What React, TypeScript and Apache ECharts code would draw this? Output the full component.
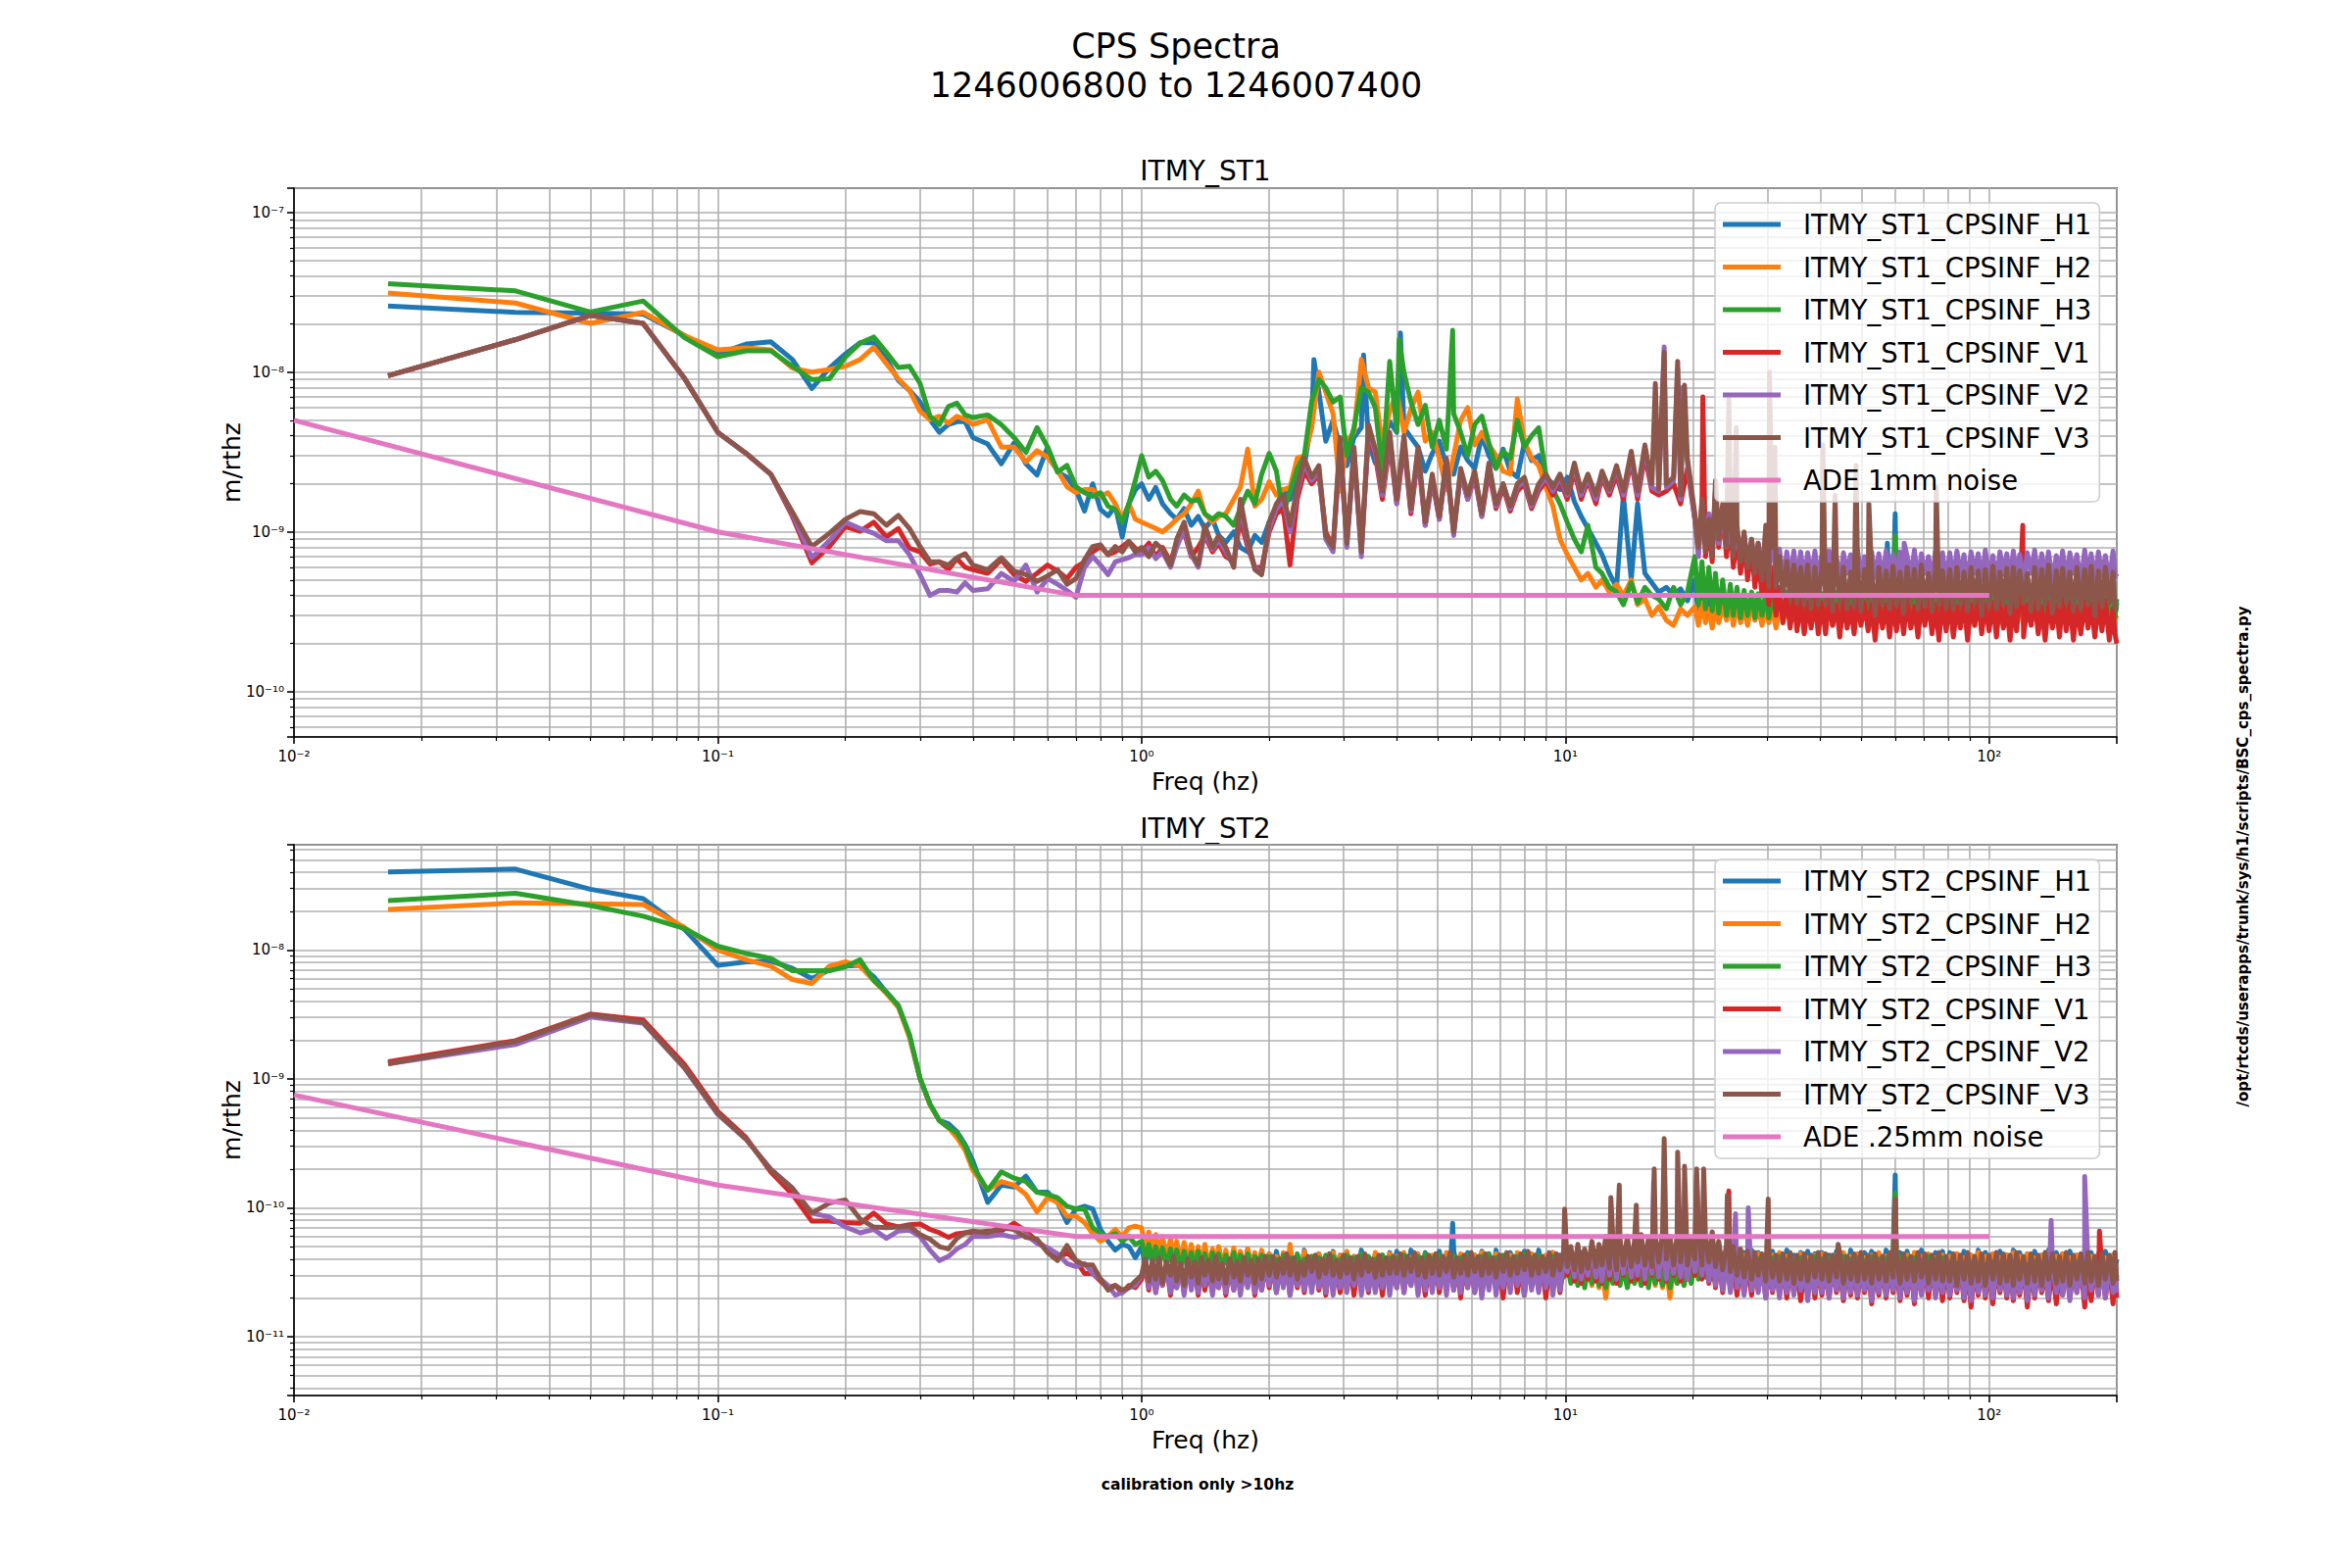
import React, { useEffect, useRef } from "react";
import * as echarts from "echarts";

const FONT = "'DejaVu Sans', 'Noto Sans', sans-serif";
const COLORS = ["#1f77b4", "#ff7f0e", "#2ca02c", "#d62728", "#9467bd", "#8c564b", "#e377c2"];

const TOP_NAMES = ["ITMY_ST1_CPSINF_H1", "ITMY_ST1_CPSINF_H2", "ITMY_ST1_CPSINF_H3", "ITMY_ST1_CPSINF_V1", "ITMY_ST1_CPSINF_V2", "ITMY_ST1_CPSINF_V3", "ADE 1mm noise"];
const BOT_NAMES = ["ITMY_ST2_CPSINF_H1", "ITMY_ST2_CPSINF_H2", "ITMY_ST2_CPSINF_H3", "ITMY_ST2_CPSINF_V1", "ITMY_ST2_CPSINF_V2", "ITMY_ST2_CPSINF_V3", "ADE .25mm noise"];

const X_MIN = 0.01, X_MAX = 200;
const TOP_Y = [5.2e-11, 1.42e-7];
const BOT_Y = [3.5e-12, 6.55e-8];
const TOP_UNIT = 1e-9;
const BOT_UNIT = 1e-10;

// frequency bins (Hz)
const F_LF = [0.01667, 0.03333, 0.05, 0.06667, 0.08333, 0.1, 0.11667, 0.13333, 0.15, 0.16667, 0.18333, 0.2, 0.21667, 0.23333, 0.25, 0.26667, 0.28333, 0.3, 0.31667, 0.33333, 0.35, 0.36667, 0.38333, 0.4,
  0.43333, 0.46667, 0.5, 0.53333, 0.56667, 0.6, 0.63333, 0.66667, 0.7, 0.73333, 0.76667, 0.8, 0.83333, 0.86667, 0.9, 0.93333, 0.96667];
const F_20_40 = [20.2, 20.6, 21.0, 21.4, 21.8, 22.2, 22.6, 23.0, 23.5, 24.0, 24.5, 24.9, 25.4, 25.9, 26.4, 26.9, 27.5, 28.0, 28.5, 29.1, 29.7, 30.2, 30.8, 31.4, 32.0, 32.6, 33.3, 33.9, 34.6, 35.2, 35.9, 36.6, 37.3, 38.0, 38.8, 39.5];
const F_40_80 = [40.3, 41.1, 41.9, 42.7, 43.6, 44.4, 45.3, 46.2, 47.1, 48.0, 48.9, 49.8, 50.8, 51.8, 52.8, 53.8, 54.9, 56.0, 57.1, 58.2, 59.3, 60.4, 61.6, 62.8, 64.0, 65.3, 66.6, 67.9, 69.2, 70.5, 71.9, 73.3, 74.7, 76.1, 77.6, 79.1];
const F_80_200 = [80.7, 82.3, 83.9, 85.5, 87.2, 88.9, 90.6, 92.4, 94.2, 96.0, 97.9, 99.9, 102, 104, 106, 108, 110, 112, 114, 116, 118, 120.5, 123, 125.5, 128, 130.5, 133, 135.5, 138, 141, 144, 146.5, 149, 152, 155, 158, 161, 164.5, 168, 171, 174, 177.5, 181, 184.5, 188, 192, 196, 198, 200];
const F_HF_TOP = [
  [1.0, 1.04, 1.08, 1.12, 1.17, 1.21, 1.26, 1.31, 1.36, 1.41, 1.47, 1.52, 1.58, 1.65, 1.71, 1.78, 1.85, 1.92],
  [2.0, 2.08, 2.16, 2.24, 2.33, 2.42, 2.52, 2.62, 2.72, 2.83, 2.94, 3.05, 3.17, 3.3, 3.43, 3.56, 3.7, 3.85],
  [4.0, 4.16, 4.32, 4.49, 4.67, 4.85, 5.04, 5.24, 5.45, 5.66, 5.88, 6.11, 6.35, 6.6, 6.86, 7.13, 7.41, 7.7, 8.0, 8.32, 8.65, 8.99, 9.34, 9.71],
  [10.1, 10.5, 10.9, 11.3, 11.8, 12.2, 12.7, 13.2, 13.7, 14.3, 14.8, 15.4, 16.0, 16.6, 17.3, 18.0, 18.7, 19.4],
  F_20_40, F_40_80, F_80_200,
];
const F_HF_BOT = [
  [1.0, 1.02, 1.04, 1.06, 1.08, 1.1, 1.12, 1.145, 1.17, 1.19, 1.21, 1.235, 1.26, 1.285, 1.31, 1.335, 1.36, 1.385, 1.41, 1.44, 1.47, 1.495, 1.52, 1.55, 1.58, 1.615, 1.65, 1.68, 1.71, 1.745, 1.78, 1.815, 1.85, 1.885, 1.92, 1.96],
  [2.0, 2.04, 2.08, 2.12, 2.16, 2.2, 2.24, 2.285, 2.33, 2.375, 2.42, 2.47, 2.52, 2.57, 2.62, 2.67, 2.72, 2.775, 2.83, 2.885, 2.94, 2.995, 3.05, 3.11, 3.17, 3.235, 3.3, 3.365, 3.43, 3.495, 3.56, 3.63, 3.7, 3.775, 3.85, 3.925],
  [4.0, 4.08, 4.16, 4.24, 4.32, 4.405, 4.49, 4.58, 4.67, 4.76, 4.85, 4.945, 5.04, 5.14, 5.24, 5.345, 5.45, 5.555, 5.66, 5.77, 5.88, 5.995, 6.11, 6.23, 6.35, 6.475, 6.6, 6.73, 6.86, 6.995, 7.13, 7.27, 7.41, 7.555, 7.7, 7.85, 8.0, 8.16, 8.32, 8.485, 8.65, 8.82, 8.99, 9.165, 9.34, 9.525, 9.71, 9.9],
  [10.1, 10.3, 10.5, 10.7, 10.9, 11.1, 11.3, 11.55, 11.8, 12.0, 12.2, 12.45, 12.7, 12.95, 13.2, 13.45, 13.7, 14.0, 14.3, 14.55, 14.8, 15.1, 15.4, 15.7, 16.0, 16.3, 16.6, 16.95, 17.3, 17.65, 18.0, 18.35, 18.7, 19.05, 19.4, 19.8],
  F_20_40, F_40_80, F_80_200,
];

// ---------- ITMY_ST1 (values in 1e-9 m/rthz) ----------
const T_H1_LF = [26, 23.7, 23.4, 23.1, 17, 13, 15, 15.5, 12, 7.9, 10.6, 13, 15.3, 15.3, 12.1, 8.9, 7.7, 6.5, 5.05, 4.2, 4.7, 4.9, 4.9, 3.9,
  3.55, 2.67, 3.6, 2.67, 2.27, 3.4, 2.37, 2.2, 1.84, 1.35, 2.0, 1.38, 1.26, 1.45, 0.93, 1.5, 1.84];
const T_H1_HF = [
  [2.0, 1.6, 1.9, 1.5, 1.3, 1.2, 1.4, 1.1, 1.25, 1.05, 1.2, 0.95, 0.86, 1.0, 0.8, 0.75, 0.95, 0.86],
  [1.15, 1.45, 1.84, 1.6, 2.2, 2.6, 5.0, 7.5, 3.7, 5.0, 3.4, 2.6, 3.9, 4.5, 3.7, 2.7, 3.5, 4.9],
  [4.2, 4.5, 3.9, 3.4, 2.4, 3.1, 3.7, 2.6, 2.3, 3.4, 2.8, 2.5, 4.0, 3.0, 2.5, 3.3, 2.4, 2.2, 3.6, 2.8, 3.0, 2.2, 2.0, 1.84],
  [2.2, 1.55, 1.25, 1.05, 0.85, 0.72, 0.55, 0.45, 1.7, 0.5, 1.5, 0.55, 0.48, 0.42, 0.45, 0.4, 0.44, 0.37],
  [0.5, 0.3, 0.45, 0.29, 0.44, 0.3, 0.42, 0.28, 0.41, 0.3, 0.4, 0.28, 0.39, 0.3, 0.4, 0.29, 0.38, 0.28, 0.4, 0.3, 0.39, 0.29, 0.41, 0.28, 0.38, 0.3, 0.4, 0.29, 0.42, 0.28, 0.39, 0.3, 0.37, 0.29, 0.4, 0.3],
  [0.41, 0.29, 0.39, 0.3, 0.4, 0.28, 0.42, 0.3, 0.38, 0.29, 0.4, 0.28, 0.41, 0.3, 0.39, 0.29, 0.42, 0.28, 0.4, 0.3, 0.39, 0.29, 0.38, 0.29, 0.4, 0.3, 0.39, 0.28, 0.41, 0.3, 0.38, 0.29, 0.4, 0.28, 0.39, 0.3],
  [0.4, 0.28, 0.39, 0.3, 0.41, 0.29, 0.38, 0.3, 0.4, 0.28, 0.39, 0.3, 0.42, 0.29, 0.38, 0.3, 0.4, 0.28, 0.39, 0.3, 0.41, 0.29, 0.38, 0.3, 0.4, 0.28, 0.39, 0.3, 0.42, 0.29, 0.38, 0.3, 0.4, 0.28, 0.39, 0.3, 0.41, 0.29, 0.38, 0.3, 0.4, 0.28, 0.39, 0.3, 0.41, 0.29, 0.38, 0.3, 0.36],
];
const T_H1_PK = [[2.55, 12.0], [3.34, 12.8], [4.08, 17.6], [57.5, 0.85], [60.0, 1.3]];

const T_H2_LF = [31.3, 27.1, 20.2, 23.7, 17, 13.8, 14.2, 13.8, 10.6, 10, 10.4, 10.9, 12.0, 14.3, 11.3, 9.1, 7.7, 5.7, 5.05, 5.3, 4.8, 5.3, 5.05, 4.7,
  5.05, 3.4, 3.4, 2.74, 3.23, 2.94, 2.43, 1.92, 1.76, 1.84, 1.84, 1.67, 1.76, 1.5, 1.2, 1.5, 1.2];
const T_H2_HF = [
  [1.15, 1.1, 1.05, 1.0, 1.1, 1.2, 1.3, 1.5, 1.8, 1.3, 1.15, 1.25, 1.3, 1.6, 1.9, 3.3, 1.45, 1.6],
  [2.06, 1.7, 1.84, 1.9, 2.9, 3.0, 4.5, 10.0, 7.5, 5.5, 1.8, 3.7, 4.2, 12.0, 8.0, 7.5, 3.5, 5.7],
  [7.5, 4.2, 5.9, 7.5, 3.7, 4.2, 2.9, 1.84, 3.0, 5.0, 6.0, 3.5, 4.2, 3.5, 3.0, 2.4, 2.3, 6.8, 3.7, 2.9, 2.6, 1.9, 1.45, 0.9],
  [0.72, 0.6, 0.5, 0.55, 0.45, 0.5, 0.42, 0.47, 0.4, 0.5, 0.35, 0.38, 0.3, 0.34, 0.28, 0.26, 0.33, 0.3],
  [0.34, 0.26, 0.36, 0.27, 0.33, 0.25, 0.35, 0.27, 0.34, 0.28, 0.36, 0.26, 0.35, 0.27, 0.33, 0.26, 0.36, 0.28, 0.34, 0.26, 0.35, 0.27, 0.33, 0.25, 0.36, 0.27, 0.34, 0.28, 0.35, 0.26, 0.33, 0.27, 0.36, 0.26, 0.34, 0.28],
  [0.35, 0.27, 0.34, 0.26, 0.36, 0.28, 0.33, 0.26, 0.35, 0.27, 0.37, 0.28, 0.34, 0.26, 0.35, 0.27, 0.36, 0.28, 0.34, 0.27, 0.35, 0.26, 0.33, 0.28, 0.36, 0.26, 0.34, 0.27, 0.37, 0.28, 0.35, 0.26, 0.34, 0.27, 0.36, 0.28],
  [0.34, 0.26, 0.35, 0.27, 0.36, 0.28, 0.33, 0.26, 0.35, 0.27, 0.36, 0.28, 0.35, 0.27, 0.34, 0.26, 0.36, 0.28, 0.33, 0.27, 0.35, 0.26, 0.36, 0.28, 0.34, 0.27, 0.35, 0.26, 0.33, 0.28, 0.36, 0.27, 0.34, 0.26, 0.35, 0.28, 0.36, 0.26, 0.34, 0.27, 0.35, 0.28, 0.33, 0.26, 0.36, 0.27, 0.34, 0.28, 0.3],
];
const T_H2_PK = [[60.0, 0.75]];

const T_H3_LF = [35.8, 32.3, 23.8, 27.9, 16.5, 12.5, 13.6, 13.6, 10.9, 9.0, 9.1, 12.4, 15.2, 16.6, 13.3, 10.7, 10.9, 8.5, 5.3, 4.7, 6.1, 6.4, 5.4, 5.2,
  5.4, 4.7, 3.9, 3.15, 4.5, 3.4, 2.37, 2.61, 1.92, 1.76, 1.67, 1.76, 1.45, 1.38, 1.15, 1.5, 2.1];
const T_H3_HF = [
  [3.0, 2.2, 2.4, 2.1, 1.6, 1.45, 1.7, 1.55, 1.6, 1.3, 1.2, 1.3, 1.25, 1.1, 1.4, 1.8, 1.5, 2.3],
  [3.1, 2.4, 1.3, 1.8, 2.5, 3.0, 6.6, 9.0, 8.0, 6.5, 7.0, 3.0, 4.5, 8.0, 7.5, 6.0, 2.4, 11.7],
  [4.3, 10.0, 6.5, 4.7, 6.2, 3.4, 5.0, 3.3, 5.5, 4.2, 3.0, 4.7, 5.3, 3.6, 2.5, 3.2, 2.9, 5.0, 3.4, 4.0, 4.5, 2.3, 1.84, 1.5],
  [1.15, 0.9, 0.75, 1.1, 0.6, 0.55, 0.45, 0.42, 0.35, 0.48, 0.36, 0.45, 0.4, 0.38, 0.33, 0.45, 0.35, 0.42],
  [0.7, 0.35, 0.65, 0.33, 0.6, 0.32, 0.55, 0.31, 0.5, 0.3, 0.47, 0.3, 0.45, 0.29, 0.43, 0.3, 0.42, 0.29, 0.41, 0.3, 0.42, 0.29, 0.4, 0.31, 0.41, 0.3, 0.42, 0.29, 0.4, 0.31, 0.42, 0.3, 0.41, 0.29, 0.4, 0.3],
  [0.41, 0.3, 0.4, 0.29, 0.42, 0.31, 0.39, 0.3, 0.41, 0.29, 0.43, 0.3, 0.4, 0.29, 0.41, 0.3, 0.4, 0.31, 0.42, 0.29, 0.41, 0.3, 0.39, 0.31, 0.4, 0.29, 0.42, 0.3, 0.41, 0.31, 0.43, 0.29, 0.4, 0.3, 0.41, 0.31],
  [0.41, 0.29, 0.4, 0.3, 0.42, 0.31, 0.39, 0.3, 0.41, 0.29, 0.4, 0.31, 0.43, 0.3, 0.39, 0.29, 0.41, 0.3, 0.4, 0.31, 0.42, 0.3, 0.39, 0.29, 0.41, 0.31, 0.4, 0.3, 0.42, 0.29, 0.39, 0.31, 0.41, 0.3, 0.43, 0.29, 0.4, 0.31, 0.41, 0.3, 0.39, 0.29, 0.42, 0.31, 0.4, 0.3, 0.41, 0.29, 0.38],
];
const T_H3_PK = [[4.05, 16.0], [5.42, 18.3], [60.0, 0.95]];

const T_V1_LF = [9.5, 16, 22.7, 20.2, 9.2, 4.2, 3.1, 2.3, 1.25, 0.64, 0.81, 1.08, 1.01, 1.15, 0.93, 1.05, 0.79, 0.75, 0.63, 0.65, 0.58, 0.68, 0.6, 0.58,
  0.55, 0.67, 0.54, 0.49, 0.55, 0.62, 0.57, 0.51, 0.6, 0.65, 0.75, 0.81, 0.72, 0.75, 0.81, 0.87, 0.79];
const T_V1_HF = [
  [0.75, 0.85, 0.7, 0.8, 0.65, 0.85, 1.0, 0.7, 0.8, 0.95, 0.75, 0.85, 0.7, 0.65, 1.2, 0.8, 0.6, 0.6],
  [1.0, 1.3, 1.4, 0.62, 1.6, 2.4, 2.0, 2.3, 1.0, 0.8, 3.2, 0.9, 3.0, 0.8, 4.0, 3.0, 1.6, 3.6],
  [1.5, 3.5, 1.3, 3.0, 1.1, 2.1, 1.2, 2.6, 1.0, 2.3, 1.6, 2.2, 1.25, 2.4, 1.4, 1.9, 1.35, 1.8, 2.0, 1.4, 1.8, 2.1, 1.7, 2.1],
  [1.6, 2.4, 1.6, 2.1, 1.5, 2.2, 1.7, 2.3, 1.6, 2.8, 1.6, 3.0, 1.8, 1.7, 1.8, 2.0, 1.5, 2.5],
  [1.2, 0.75, 1.4, 0.7, 1.1, 0.65, 1.8, 0.8, 1.3, 0.7, 1.2, 0.6, 0.95, 0.55, 0.9, 0.5, 0.8, 0.45, 0.7, 0.4, 0.6, 0.35, 0.6, 0.3, 0.45, 0.27, 0.4, 0.25, 0.38, 0.24, 0.37, 0.23, 0.36, 0.25, 0.38, 0.23],
  [0.36, 0.23, 0.38, 0.26, 0.35, 0.22, 0.37, 0.25, 0.34, 0.23, 0.38, 0.26, 0.36, 0.24, 0.35, 0.21, 0.37, 0.25, 0.35, 0.22, 0.37, 0.24, 0.36, 0.23, 0.38, 0.25, 0.34, 0.22, 0.36, 0.26, 0.37, 0.23, 0.35, 0.21, 0.38, 0.24],
  [0.36, 0.22, 0.34, 0.25, 0.37, 0.21, 0.35, 0.26, 0.38, 0.23, 0.35, 0.24, 0.36, 0.22, 0.37, 0.25, 0.34, 0.21, 0.36, 0.24, 0.38, 0.22, 0.35, 0.26, 0.37, 0.23, 0.34, 0.21, 0.36, 0.25, 0.35, 0.22, 0.38, 0.24, 0.36, 0.21, 0.34, 0.23, 0.37, 0.25, 0.35, 0.22, 0.36, 0.24, 0.37, 0.21, 0.33, 0.23, 0.2],
];
const T_V1_PK = [[21.1, 7.0], [120, 1.1]];

const T_V2_LF = [9.5, 16, 22.7, 20.2, 9.2, 4.2, 3.1, 2.3, 1.3, 0.69, 0.88, 1.15, 1.05, 0.98, 0.88, 0.88, 0.72, 0.54, 0.4, 0.43, 0.43, 0.42, 0.48, 0.43,
  0.44, 0.55, 0.49, 0.62, 0.42, 0.51, 0.47, 0.43, 0.39, 0.6, 0.7, 0.62, 0.54, 0.65, 0.67, 0.69, 0.72];
const T_V2_HF = [
  [0.72, 0.8, 0.68, 0.75, 0.6, 0.8, 1.05, 0.72, 0.6, 1.0, 0.78, 0.9, 0.75, 0.62, 1.45, 0.85, 0.6, 0.55],
  [1.05, 1.4, 1.6, 1.0, 1.8, 2.7, 2.1, 2.4, 0.9, 0.75, 3.6, 0.8, 3.2, 0.7, 4.4, 3.1, 1.7, 4.0],
  [1.5, 3.8, 1.35, 3.2, 1.1, 2.2, 1.2, 2.8, 0.95, 2.4, 1.6, 2.3, 1.25, 2.6, 1.45, 2.0, 1.4, 1.9, 2.1, 1.45, 1.9, 2.2, 1.8, 2.2],
  [1.7, 2.6, 1.7, 2.2, 1.6, 2.3, 1.8, 2.5, 1.7, 3.0, 1.7, 3.3, 1.9, 1.8, 1.9, 2.1, 1.6, 2.7],
  [1.2, 0.7, 1.5, 0.8, 1.3, 0.75, 1.8, 0.85, 1.4, 0.8, 1.2, 0.75, 1.0, 0.7, 0.95, 0.65, 0.9, 0.6, 0.85, 0.6, 0.8, 0.55, 0.95, 0.55, 0.78, 0.5, 0.75, 0.5, 0.76, 0.48, 0.75, 0.5, 0.74, 0.52, 0.76, 0.5],
  [0.72, 0.5, 0.76, 0.52, 0.7, 0.48, 0.74, 0.55, 0.72, 0.5, 0.77, 0.53, 0.7, 0.48, 0.75, 0.52, 0.73, 0.5, 0.76, 0.49, 0.72, 0.54, 0.75, 0.5, 0.71, 0.52, 0.77, 0.48, 0.73, 0.55, 0.7, 0.5, 0.76, 0.52, 0.74, 0.49],
  [0.74, 0.5, 0.76, 0.53, 0.72, 0.48, 0.75, 0.55, 0.73, 0.5, 0.77, 0.52, 0.71, 0.49, 0.75, 0.54, 0.73, 0.5, 0.76, 0.52, 0.72, 0.48, 0.74, 0.55, 0.77, 0.5, 0.73, 0.52, 0.75, 0.49, 0.71, 0.53, 0.76, 0.5, 0.74, 0.55, 0.72, 0.48, 0.77, 0.52, 0.73, 0.5, 0.75, 0.53, 0.71, 0.49, 0.76, 0.52, 0.55],
];
const T_V2_PK = [[17.1, 14.4], [18.4, 10.5], [18.9, 8.0], [63.0, 0.85]];

const T_V3_LF = [9.5, 16, 22.7, 20.2, 9.2, 4.2, 3.1, 2.3, 1.33, 0.81, 0.98, 1.2, 1.34, 1.3, 1.1, 1.27, 1.05, 0.81, 0.65, 0.65, 0.62, 0.69, 0.73, 0.62,
  0.58, 0.69, 0.57, 0.54, 0.49, 0.53, 0.58, 0.47, 0.51, 0.67, 0.81, 0.83, 0.72, 0.81, 0.75, 0.87, 0.75];
const T_V3_HF = [
  [0.8, 0.7, 0.85, 0.78, 0.62, 0.9, 1.15, 0.75, 0.62, 1.1, 0.8, 0.95, 0.8, 0.6, 1.6, 0.9, 0.58, 0.54],
  [1.15, 1.5, 1.7, 1.1, 1.9, 2.9, 2.2, 2.6, 0.95, 0.8, 3.9, 0.85, 3.4, 0.75, 4.7, 3.3, 1.8, 4.2],
  [1.6, 4.0, 1.4, 3.4, 1.15, 2.3, 1.25, 2.9, 1.0, 2.5, 1.7, 2.4, 1.3, 2.7, 1.5, 2.0, 1.45, 2.0, 2.2, 1.5, 2.0, 2.3, 1.9, 2.3],
  [1.75, 2.7, 1.8, 2.3, 1.7, 2.4, 1.85, 2.6, 1.8, 3.2, 1.8, 3.5, 2.0, 1.85, 2.0, 2.2, 1.7, 2.9],
  [1.3, 0.8, 1.6, 0.75, 1.2, 0.7, 2.1, 0.9, 1.5, 0.8, 1.4, 0.7, 1.1, 0.65, 1.0, 0.6, 0.9, 0.55, 0.85, 0.5, 1.1, 0.45, 0.8, 0.45, 0.7, 0.4, 0.65, 0.38, 0.62, 0.36, 0.6, 0.35, 0.62, 0.33, 0.6, 0.35],
  [0.6, 0.35, 0.62, 0.32, 0.58, 0.36, 0.6, 0.33, 0.56, 0.34, 0.6, 0.32, 0.58, 0.36, 0.55, 0.3, 0.6, 0.35, 0.57, 0.33, 0.61, 0.35, 0.56, 0.31, 0.6, 0.36, 0.58, 0.33, 0.62, 0.34, 0.55, 0.32, 0.59, 0.35, 0.57, 0.33],
  [0.58, 0.33, 0.6, 0.35, 0.56, 0.32, 0.6, 0.36, 0.57, 0.3, 0.58, 0.34, 0.61, 0.33, 0.56, 0.35, 0.59, 0.31, 0.6, 0.34, 0.57, 0.36, 0.55, 0.32, 0.6, 0.33, 0.58, 0.35, 0.62, 0.31, 0.57, 0.34, 0.59, 0.36, 0.56, 0.32, 0.6, 0.33, 0.58, 0.35, 0.61, 0.3, 0.57, 0.34, 0.6, 0.36, 0.56, 0.33, 0.32],
];
const T_V3_PK = [[16.3, 8.5], [17.1, 13.3], [18.4, 11.7], [19.1, 8.3], [24.3, 7.0], [25.3, 4.5], [30.3, 10.0], [31.2, 3.4], [40.5, 3.5], [43.3, 1.7], [48.5, 2.6], [52.0, 1.5], [75.0, 1.9]];

const ADE_F = [0.01, 0.1, 0.7, 100];
const ADE_TOP = [5e-9, 1e-9, 4e-10, 4e-10];
const ADE_BOT = [7.5e-10, 1.5e-10, 6e-11, 6e-11];

// ---------- ITMY_ST2 (values in 1e-10 m/rthz) ----------
const B_H1_LF = [403, 424, 296, 250, 145, 76, 81, 82, 72, 60, 70, 75, 76, 62, 47, 37, 21.6, 10.1, 6.35, 4.75, 4.5, 3.9, 3.1, 2.3,
  1.1, 1.5, 1.45, 1.76, 1.32, 1.32, 1.1, 0.77, 0.98, 1.03, 0.98, 0.68, 0.55, 0.47, 0.52, 0.5, 0.41];
const B_H1_HF = [
  [0.5, 0.36, 0.52, 0.38, 0.48, 0.35, 0.5, 0.37, 0.46, 0.34, 0.49, 0.36, 0.47, 0.33, 0.5, 0.35, 0.45, 0.34, 0.48, 0.36, 0.46, 0.33, 0.49, 0.35, 0.44, 0.34, 0.47, 0.36, 0.45, 0.33, 0.48, 0.35, 0.44, 0.34, 0.46, 0.33],
  [0.44, 0.32, 0.46, 0.33, 0.42, 0.31, 0.45, 0.34, 0.43, 0.32, 0.47, 0.33, 0.41, 0.31, 0.44, 0.34, 0.42, 0.32, 0.46, 0.33, 0.43, 0.31, 0.45, 0.34, 0.42, 0.32, 0.47, 0.33, 0.4, 0.31, 0.44, 0.34, 0.43, 0.32, 0.45, 0.33],
  [0.46, 0.33, 0.43, 0.31, 0.47, 0.34, 0.42, 0.32, 0.45, 0.33, 0.41, 0.31, 0.46, 0.34, 0.43, 0.32, 0.47, 0.33, 0.42, 0.31, 0.45, 0.34, 0.43, 0.32, 0.46, 0.33, 0.44, 0.31, 0.47, 0.34, 0.42, 0.32, 0.45, 0.33, 0.43, 0.31, 0.46, 0.34, 0.44, 0.32, 0.47, 0.33, 0.42, 0.31, 0.45, 0.34, 0.43, 0.32],
  [0.44, 0.3, 0.42, 0.29, 0.45, 0.31, 0.41, 0.28, 0.43, 0.3, 0.44, 0.29, 0.42, 0.31, 0.45, 0.3, 0.41, 0.29, 0.44, 0.3, 0.43, 0.28, 0.45, 0.31, 0.42, 0.29, 0.44, 0.3, 0.41, 0.28, 0.43, 0.31, 0.45, 0.29, 0.42, 0.3],
  [0.44, 0.31, 0.46, 0.32, 0.43, 0.3, 0.47, 0.33, 0.44, 0.31, 0.46, 0.32, 0.43, 0.3, 0.45, 0.33, 0.47, 0.31, 0.45, 0.32, 0.43, 0.31, 0.46, 0.3, 0.44, 0.33, 0.47, 0.32, 0.43, 0.3, 0.45, 0.31, 0.46, 0.33, 0.44, 0.32],
  [0.45, 0.32, 0.43, 0.3, 0.46, 0.33, 0.44, 0.31, 0.47, 0.32, 0.43, 0.3, 0.45, 0.33, 0.46, 0.31, 0.44, 0.32, 0.47, 0.3, 0.43, 0.33, 0.45, 0.31, 0.46, 0.32, 0.44, 0.3, 0.47, 0.33, 0.43, 0.31, 0.45, 0.32, 0.46, 0.3],
  [0.45, 0.3, 0.44, 0.33, 0.46, 0.31, 0.43, 0.32, 0.47, 0.3, 0.45, 0.33, 0.44, 0.31, 0.46, 0.32, 0.43, 0.3, 0.47, 0.33, 0.45, 0.31, 0.44, 0.32, 0.46, 0.3, 0.43, 0.33, 0.47, 0.31, 0.45, 0.32, 0.44, 0.3, 0.46, 0.33, 0.43, 0.31, 0.47, 0.32, 0.45, 0.3, 0.44, 0.33, 0.46, 0.31, 0.43, 0.32, 0.4],
];
const B_H1_PK = [[5.42, 0.76], [60.0, 1.8]];

const B_H2_LF = [206, 232, 228, 225, 150, 100, 84, 75, 59, 55, 75, 81, 75, 58, 46, 36, 21, 10.1, 6.3, 4.75, 4.2, 3.5, 2.8, 1.95,
  1.37, 1.6, 1.5, 1.27, 0.93, 1.2, 1.1, 0.86, 0.86, 0.77, 0.63, 0.55, 0.6, 0.68, 0.6, 0.7, 0.72];
const B_H2_HF = [
  [0.7, 0.48, 0.65, 0.45, 0.62, 0.43, 0.6, 0.42, 0.57, 0.4, 0.55, 0.38, 0.54, 0.37, 0.52, 0.36, 0.5, 0.35, 0.52, 0.36, 0.48, 0.34, 0.5, 0.35, 0.47, 0.33, 0.49, 0.34, 0.46, 0.33, 0.48, 0.34, 0.45, 0.32, 0.47, 0.33],
  [0.44, 0.3, 0.42, 0.32, 0.45, 0.31, 0.52, 0.3, 0.43, 0.29, 0.46, 0.31, 0.42, 0.3, 0.44, 0.32, 0.41, 0.29, 0.45, 0.31, 0.43, 0.3, 0.46, 0.32, 0.42, 0.29, 0.44, 0.31, 0.41, 0.3, 0.45, 0.32, 0.43, 0.29, 0.44, 0.31],
  [0.42, 0.3, 0.45, 0.31, 0.41, 0.29, 0.44, 0.32, 0.4, 0.3, 0.43, 0.31, 0.42, 0.29, 0.45, 0.3, 0.41, 0.32, 0.44, 0.3, 0.42, 0.31, 0.43, 0.29, 0.45, 0.3, 0.41, 0.31, 0.44, 0.29, 0.42, 0.32, 0.43, 0.3, 0.45, 0.31, 0.41, 0.29, 0.44, 0.3, 0.42, 0.32, 0.43, 0.29, 0.45, 0.31, 0.41, 0.3],
  [0.4, 0.28, 0.38, 0.27, 0.39, 0.26, 0.36, 0.25, 0.37, 0.24, 0.35, 0.2, 0.34, 0.26, 0.36, 0.27, 0.35, 0.25, 0.36, 0.26, 0.34, 0.25, 0.35, 0.27, 0.33, 0.25, 0.36, 0.24, 0.34, 0.2, 0.35, 0.26, 0.33, 0.25, 0.34, 0.26],
  [0.4, 0.29, 0.43, 0.3, 0.41, 0.28, 0.44, 0.31, 0.42, 0.29, 0.45, 0.3, 0.41, 0.28, 0.43, 0.31, 0.42, 0.29, 0.44, 0.3, 0.41, 0.28, 0.43, 0.31, 0.45, 0.29, 0.42, 0.3, 0.4, 0.28, 0.44, 0.31, 0.41, 0.29, 0.43, 0.3],
  [0.44, 0.3, 0.41, 0.29, 0.43, 0.31, 0.45, 0.28, 0.42, 0.3, 0.44, 0.29, 0.41, 0.31, 0.43, 0.3, 0.45, 0.28, 0.42, 0.29, 0.44, 0.31, 0.41, 0.3, 0.43, 0.28, 0.45, 0.29, 0.42, 0.31, 0.44, 0.3, 0.41, 0.28, 0.43, 0.29],
  [0.42, 0.3, 0.44, 0.29, 0.41, 0.31, 0.43, 0.28, 0.45, 0.3, 0.42, 0.29, 0.44, 0.31, 0.41, 0.3, 0.43, 0.28, 0.45, 0.29, 0.42, 0.31, 0.44, 0.3, 0.41, 0.28, 0.43, 0.29, 0.45, 0.31, 0.42, 0.3, 0.44, 0.28, 0.41, 0.29, 0.43, 0.31, 0.45, 0.3, 0.42, 0.28, 0.44, 0.29, 0.41, 0.31, 0.43, 0.3, 0.35],
];
const B_H2_PK = [[60.0, 1.0]];

const B_H3_LF = [242, 275, 221, 183, 147, 107, 94, 86, 69, 69, 69, 74, 84, 58, 47, 37, 22, 10.1, 6.4, 4.75, 4.2, 3.8, 3.0, 2.1,
  1.37, 1.9, 1.7, 1.6, 1.32, 1.27, 1.2, 1.03, 0.98, 0.98, 0.7, 0.63, 0.6, 0.63, 0.55, 0.6, 0.52];
const B_H3_HF = [
  [0.55, 0.4, 0.52, 0.38, 0.5, 0.37, 0.49, 0.36, 0.48, 0.35, 0.47, 0.34, 0.46, 0.35, 0.45, 0.33, 0.46, 0.34, 0.44, 0.33, 0.45, 0.32, 0.44, 0.34, 0.43, 0.33, 0.45, 0.32, 0.43, 0.33, 0.44, 0.32, 0.42, 0.33, 0.43, 0.31],
  [0.42, 0.3, 0.4, 0.29, 0.43, 0.31, 0.41, 0.3, 0.44, 0.29, 0.4, 0.31, 0.42, 0.3, 0.41, 0.29, 0.43, 0.3, 0.42, 0.31, 0.4, 0.29, 0.43, 0.3, 0.41, 0.31, 0.44, 0.29, 0.42, 0.3, 0.4, 0.31, 0.43, 0.29, 0.41, 0.3],
  [0.41, 0.29, 0.43, 0.3, 0.4, 0.31, 0.42, 0.29, 0.44, 0.3, 0.41, 0.31, 0.43, 0.29, 0.4, 0.3, 0.42, 0.31, 0.41, 0.29, 0.43, 0.3, 0.4, 0.29, 0.42, 0.3, 0.44, 0.31, 0.41, 0.29, 0.43, 0.3, 0.4, 0.31, 0.42, 0.29, 0.44, 0.3, 0.41, 0.31, 0.43, 0.29, 0.4, 0.3, 0.42, 0.31, 0.41, 0.29],
  [0.36, 0.26, 0.35, 0.25, 0.37, 0.24, 0.34, 0.26, 0.36, 0.25, 0.38, 0.24, 0.35, 0.26, 0.37, 0.25, 0.34, 0.24, 0.36, 0.26, 0.35, 0.25, 0.38, 0.24, 0.36, 0.26, 0.34, 0.25, 0.37, 0.24, 0.35, 0.26, 0.36, 0.25, 0.38, 0.26],
  [0.38, 0.28, 0.4, 0.29, 0.41, 0.28, 0.39, 0.3, 0.42, 0.29, 0.4, 0.28, 0.41, 0.3, 0.39, 0.29, 0.42, 0.28, 0.4, 0.3, 0.38, 0.29, 0.41, 0.28, 0.42, 0.3, 0.39, 0.28, 0.4, 0.29, 0.41, 0.3, 0.38, 0.28, 0.42, 0.29],
  [0.4, 0.29, 0.41, 0.28, 0.39, 0.3, 0.42, 0.29, 0.4, 0.28, 0.41, 0.3, 0.39, 0.29, 0.42, 0.28, 0.4, 0.3, 0.41, 0.29, 0.39, 0.28, 0.42, 0.3, 0.4, 0.29, 0.41, 0.28, 0.39, 0.3, 0.42, 0.29, 0.4, 0.28, 0.41, 0.3],
  [0.38, 0.26, 0.37, 0.25, 0.36, 0.27, 0.38, 0.25, 0.37, 0.26, 0.36, 0.25, 0.38, 0.27, 0.37, 0.25, 0.36, 0.26, 0.38, 0.25, 0.37, 0.27, 0.36, 0.26, 0.38, 0.25, 0.37, 0.26, 0.36, 0.27, 0.38, 0.25, 0.37, 0.26, 0.36, 0.25, 0.38, 0.27, 0.37, 0.25, 0.36, 0.26, 0.38, 0.25, 0.37, 0.27, 0.36, 0.26, 0.3],
];
const B_H3_PK = [[60.0, 1.3]];

const B_V1_LF = [13.6, 19.8, 31.8, 28.7, 13, 5.6, 3.5, 1.9, 1.27, 0.79, 0.79, 0.77, 0.76, 0.91, 0.75, 0.71, 0.74, 0.75, 0.68, 0.64, 0.59, 0.63, 0.64, 0.64,
  0.66, 0.66, 0.76, 0.66, 0.55, 0.48, 0.4, 0.45, 0.39, 0.31, 0.31, 0.27, 0.24, 0.25, 0.22, 0.25, 0.24];
const B_V1_HF = [
  [0.28, 0.36, 0.23, 0.35, 0.22, 0.34, 0.25, 0.36, 0.21, 0.33, 0.24, 0.35, 0.22, 0.37, 0.25, 0.34, 0.21, 0.36, 0.23, 0.33, 0.22, 0.35, 0.24, 0.36, 0.21, 0.34, 0.23, 0.37, 0.22, 0.33, 0.25, 0.35, 0.21, 0.34, 0.23, 0.36],
  [0.24, 0.36, 0.22, 0.34, 0.25, 0.37, 0.21, 0.35, 0.24, 0.36, 0.22, 0.34, 0.25, 0.37, 0.23, 0.35, 0.21, 0.36, 0.23, 0.34, 0.22, 0.37, 0.24, 0.35, 0.21, 0.36, 0.25, 0.34, 0.22, 0.37, 0.23, 0.35, 0.21, 0.36, 0.24, 0.34],
  [0.24, 0.37, 0.22, 0.35, 0.25, 0.38, 0.23, 0.34, 0.21, 0.36, 0.24, 0.37, 0.22, 0.35, 0.25, 0.38, 0.23, 0.36, 0.2, 0.35, 0.24, 0.37, 0.22, 0.36, 0.21, 0.34, 0.25, 0.37, 0.23, 0.35, 0.2, 0.36, 0.24, 0.38, 0.22, 0.34, 0.21, 0.37, 0.25, 0.35, 0.23, 0.36, 0.2, 0.34, 0.24, 0.37, 0.22, 0.36],
  [0.3, 0.42, 0.27, 0.44, 0.26, 0.4, 0.28, 0.45, 0.27, 0.43, 0.26, 0.48, 0.28, 0.44, 0.26, 0.46, 0.3, 0.5, 0.27, 0.45, 0.28, 0.47, 0.26, 0.5, 0.3, 0.46, 0.28, 0.52, 0.27, 0.48, 0.3, 0.5, 0.27, 0.46, 0.28, 0.48],
  [0.3, 0.55, 0.28, 0.45, 0.26, 0.5, 0.24, 0.42, 0.22, 0.4, 0.23, 0.38, 0.21, 0.36, 0.22, 0.35, 0.21, 0.36, 0.23, 0.35, 0.2, 0.34, 0.22, 0.35, 0.21, 0.34, 0.2, 0.35, 0.22, 0.33, 0.19, 0.35, 0.21, 0.34, 0.2, 0.36],
  [0.21, 0.34, 0.2, 0.35, 0.22, 0.33, 0.19, 0.35, 0.21, 0.34, 0.2, 0.36, 0.22, 0.33, 0.18, 0.34, 0.21, 0.35, 0.2, 0.33, 0.22, 0.36, 0.19, 0.34, 0.21, 0.35, 0.18, 0.33, 0.22, 0.34, 0.2, 0.36, 0.21, 0.33, 0.19, 0.35],
  [0.2, 0.34, 0.22, 0.35, 0.19, 0.33, 0.17, 0.34, 0.21, 0.36, 0.2, 0.33, 0.18, 0.35, 0.22, 0.34, 0.2, 0.36, 0.19, 0.33, 0.21, 0.35, 0.17, 0.34, 0.2, 0.36, 0.22, 0.33, 0.19, 0.35, 0.18, 0.34, 0.21, 0.36, 0.2, 0.33, 0.22, 0.35, 0.17, 0.34, 0.19, 0.36, 0.21, 0.33, 0.2, 0.35, 0.18, 0.34, 0.2],
];
const B_V1_PK = [[20.4, 1.8], [24.3, 1.35], [182, 0.66]];

const B_V2_LF = [13.1, 18.5, 30.2, 27.1, 12.2, 5.3, 3.4, 2.0, 1.42, 0.91, 0.85, 0.71, 0.64, 0.68, 0.58, 0.66, 0.67, 0.6, 0.47, 0.39, 0.42, 0.48, 0.52, 0.6,
  0.6, 0.62, 0.59, 0.62, 0.53, 0.49, 0.44, 0.37, 0.35, 0.37, 0.31, 0.28, 0.25, 0.21, 0.22, 0.24, 0.25];
const B_V2_HF = [
  [0.3, 0.38, 0.24, 0.36, 0.22, 0.37, 0.25, 0.35, 0.22, 0.38, 0.24, 0.36, 0.21, 0.37, 0.23, 0.35, 0.22, 0.38, 0.25, 0.36, 0.21, 0.34, 0.24, 0.37, 0.22, 0.36, 0.23, 0.38, 0.21, 0.35, 0.24, 0.37, 0.22, 0.36, 0.23, 0.38],
  [0.25, 0.37, 0.22, 0.36, 0.24, 0.38, 0.21, 0.35, 0.25, 0.37, 0.23, 0.36, 0.22, 0.38, 0.24, 0.35, 0.22, 0.37, 0.21, 0.36, 0.24, 0.38, 0.22, 0.35, 0.25, 0.37, 0.21, 0.36, 0.23, 0.38, 0.22, 0.35, 0.24, 0.37, 0.21, 0.36],
  [0.24, 0.38, 0.22, 0.36, 0.25, 0.39, 0.21, 0.35, 0.23, 0.37, 0.22, 0.38, 0.24, 0.36, 0.21, 0.39, 0.23, 0.37, 0.22, 0.36, 0.24, 0.38, 0.22, 0.37, 0.2, 0.36, 0.23, 0.39, 0.21, 0.35, 0.24, 0.38, 0.22, 0.37, 0.25, 0.36, 0.21, 0.38, 0.23, 0.35, 0.22, 0.39, 0.24, 0.36, 0.21, 0.37, 0.23, 0.38],
  [0.32, 0.44, 0.29, 0.46, 0.28, 0.42, 0.3, 0.48, 0.29, 0.45, 0.27, 0.5, 0.3, 0.46, 0.28, 0.48, 0.31, 0.52, 0.29, 0.47, 0.3, 0.5, 0.28, 0.52, 0.31, 0.48, 0.29, 0.54, 0.28, 0.5, 0.31, 0.52, 0.29, 0.48, 0.28, 0.5],
  [0.32, 0.58, 0.3, 0.5, 0.27, 0.46, 0.25, 0.42, 0.23, 0.4, 0.22, 0.38, 0.24, 0.37, 0.21, 0.36, 0.23, 0.37, 0.22, 0.36, 0.2, 0.37, 0.23, 0.35, 0.2, 0.36, 0.22, 0.37, 0.21, 0.38, 0.23, 0.35, 0.19, 0.36, 0.22, 0.37],
  [0.22, 0.36, 0.2, 0.37, 0.23, 0.35, 0.2, 0.36, 0.22, 0.37, 0.21, 0.38, 0.23, 0.35, 0.19, 0.36, 0.22, 0.37, 0.21, 0.35, 0.23, 0.38, 0.2, 0.36, 0.22, 0.35, 0.19, 0.37, 0.21, 0.36, 0.23, 0.38, 0.2, 0.35, 0.22, 0.37],
  [0.21, 0.36, 0.23, 0.37, 0.2, 0.35, 0.19, 0.36, 0.22, 0.38, 0.21, 0.35, 0.2, 0.37, 0.23, 0.36, 0.21, 0.38, 0.2, 0.35, 0.22, 0.37, 0.19, 0.36, 0.21, 0.35, 0.23, 0.38, 0.2, 0.36, 0.22, 0.37, 0.21, 0.35, 0.19, 0.38, 0.22, 0.36, 0.2, 0.37, 0.23, 0.35, 0.21, 0.36, 0.2, 0.38, 0.22, 0.35, 0.22],
];
const B_V2_PK = [[16.15, 1.6], [25.2, 0.9], [27.0, 1.0], [140, 0.8], [168, 1.75]];

const B_V3_LF = [13.1, 19.5, 31.4, 27.5, 12.3, 5.4, 3.4, 1.97, 1.42, 0.91, 1.09, 1.15, 0.82, 0.71, 0.7, 0.71, 0.72, 0.62, 0.57, 0.5, 0.48, 0.58, 0.64, 0.66,
  0.64, 0.7, 0.68, 0.59, 0.57, 0.45, 0.39, 0.51, 0.39, 0.36, 0.36, 0.28, 0.23, 0.25, 0.23, 0.24, 0.27];
const B_V3_HF = [
  [0.3, 0.4, 0.27, 0.39, 0.28, 0.41, 0.26, 0.38, 0.3, 0.42, 0.27, 0.37, 0.25, 0.4, 0.29, 0.38, 0.26, 0.41, 0.3, 0.39, 0.27, 0.42, 0.28, 0.37, 0.26, 0.4, 0.29, 0.38, 0.27, 0.41, 0.3, 0.39, 0.26, 0.4, 0.28, 0.42],
  [0.3, 0.42, 0.29, 0.4, 0.31, 0.44, 0.3, 0.41, 0.28, 0.38, 0.3, 0.42, 0.32, 0.43, 0.29, 0.4, 0.31, 0.44, 0.3, 0.39, 0.29, 0.43, 0.31, 0.41, 0.28, 0.42, 0.3, 0.44, 0.32, 0.4, 0.29, 0.43, 0.3, 0.41, 0.31, 0.42],
  [0.31, 0.44, 0.3, 0.42, 0.32, 0.45, 0.3, 0.41, 0.29, 0.43, 0.31, 0.44, 0.3, 0.42, 0.32, 0.45, 0.29, 0.41, 0.31, 0.43, 0.3, 0.45, 0.32, 0.42, 0.3, 0.44, 0.31, 0.41, 0.29, 0.43, 0.32, 0.45, 0.3, 0.42, 0.31, 0.44, 0.33, 0.46, 0.3, 0.43, 0.31, 0.42, 0.32, 0.45, 0.3, 0.44, 0.33, 0.46],
  [0.35, 0.5, 0.33, 0.52, 0.32, 0.48, 0.34, 0.55, 0.35, 0.52, 0.36, 0.6, 0.34, 0.56, 0.33, 0.58, 0.36, 0.6, 0.35, 0.55, 0.38, 0.62, 0.36, 0.58, 0.35, 0.6, 0.38, 0.65, 0.4, 0.6, 0.36, 0.62, 0.38, 0.6, 0.36, 0.58],
  [0.4, 0.7, 0.36, 0.6, 0.38, 0.65, 0.35, 0.55, 0.33, 0.52, 0.32, 0.5, 0.3, 0.48, 0.29, 0.46, 0.28, 0.45, 0.3, 0.44, 0.27, 0.45, 0.29, 0.43, 0.27, 0.44, 0.28, 0.45, 0.26, 0.43, 0.28, 0.44, 0.27, 0.43, 0.29, 0.45],
  [0.28, 0.44, 0.27, 0.43, 0.29, 0.45, 0.26, 0.42, 0.28, 0.44, 0.27, 0.45, 0.28, 0.43, 0.26, 0.44, 0.28, 0.42, 0.27, 0.45, 0.29, 0.43, 0.26, 0.44, 0.28, 0.42, 0.27, 0.45, 0.29, 0.44, 0.26, 0.43, 0.28, 0.45, 0.27, 0.42],
  [0.27, 0.44, 0.25, 0.43, 0.28, 0.45, 0.26, 0.42, 0.27, 0.44, 0.25, 0.43, 0.28, 0.45, 0.26, 0.44, 0.27, 0.43, 0.25, 0.45, 0.28, 0.42, 0.26, 0.44, 0.27, 0.43, 0.25, 0.45, 0.28, 0.44, 0.26, 0.42, 0.27, 0.45, 0.25, 0.43, 0.28, 0.44, 0.26, 0.45, 0.27, 0.42, 0.25, 0.44, 0.28, 0.43, 0.26, 0.45, 0.27],
];
const B_V3_PK = [[9.96, 0.98], [12.8, 1.2], [13.4, 1.5], [14.7, 1.05], [16.2, 2.0], [17.1, 3.45], [18.4, 2.7], [19.1, 2.1], [20.4, 2.0], [21.2, 2.0], [24.1, 1.25], [30.1, 1.17], [44.0, 0.52], [60.0, 1.17]];

const SUP: Record<string, string> = { "-": "\u207B", "0": "\u2070", "1": "\u00B9", "2": "\u00B2", "3": "\u00B3", "4": "\u2074", "5": "\u2075", "6": "\u2076", "7": "\u2077", "8": "\u2078", "9": "\u2079" };

function powLabel(v: number) {
  const e = Math.log10(v);
  const r = Math.round(e);
  if (Math.abs(e - r) > 1e-6) return "";
  return "10" + String(r).split("").map((c) => SUP[c] || c).join("");
}

function minorTicks(lo: number, hi: number) {
  const out: number[] = [];
  for (let e = Math.floor(Math.log10(lo)); e <= Math.ceil(Math.log10(hi)); e++) {
    for (let m = 2; m <= 9; m++) {
      const v = m * Math.pow(10, e);
      if (v > lo * 1.0001 && v < hi * 0.9999) out.push(v);
    }
  }
  return out;
}

function buildSeries(lf: number[], hf: number[][], pk: number[][], unit: number, grid: number[][]) {
  const pts: number[][] = [];
  const n = Math.min(F_LF.length, lf.length);
  for (let i = 0; i < n; i++) pts.push([F_LF[i], lf[i] * unit]);
  grid.forEach((seg, s) => {
    const vals = hf[s] || [];
    const m = Math.min(seg.length, vals.length);
    for (let j = 0; j < m; j++) pts.push([seg[j], vals[j] * unit]);
  });
  pk.forEach(([f, v]) => pts.push([f, v * unit]));
  pts.sort((a, b) => a[0] - b[0]);
  return pts;
}

function zipPts(xs: number[], ys: number[]) {
  return xs.map((x, i) => [x, ys[i]]);
}

const TOP_SETS = [
  [T_H1_LF, T_H1_HF, T_H1_PK], [T_H2_LF, T_H2_HF, T_H2_PK], [T_H3_LF, T_H3_HF, T_H3_PK],
  [T_V1_LF, T_V1_HF, T_V1_PK], [T_V2_LF, T_V2_HF, T_V2_PK], [T_V3_LF, T_V3_HF, T_V3_PK],
];
const BOT_SETS = [
  [B_H1_LF, B_H1_HF, B_H1_PK], [B_H2_LF, B_H2_HF, B_H2_PK], [B_H3_LF, B_H3_HF, B_H3_PK],
  [B_V1_LF, B_V1_HF, B_V1_PK], [B_V2_LF, B_V2_HF, B_V2_PK], [B_V3_LF, B_V3_HF, B_V3_PK],
];

const GRIDS = [
  { left: 300, top: 192, width: 1860, height: 560 },
  { left: 300, top: 862, width: 1860, height: 562 },
];

function makeOption(withMinor: boolean) {
  const gridLine = { show: true, lineStyle: { color: "#b0b0b0", width: 1.6, type: "solid" } };
  const mainX = (g: number) => ({
    type: "log", logBase: 10, gridIndex: g, min: X_MIN, max: X_MAX, position: "bottom",
    axisLine: { show: true, onZero: false, lineStyle: { color: "#000", width: 1.6 } },
    axisTick: { show: true, inside: false, length: 7, lineStyle: { color: "#000", width: 1.6 } },
    axisLabel: { show: true, margin: 12, fontSize: 15, color: "#000", fontFamily: FONT, formatter: powLabel },
    splitLine: gridLine,
  });
  const mainY = (g: number, yr: number[]) => ({
    type: "log", logBase: 10, gridIndex: g, min: yr[0], max: yr[1], position: "left",
    axisLine: { show: true, onZero: false, lineStyle: { color: "#000", width: 1.6 } },
    axisTick: { show: true, inside: false, length: 7, lineStyle: { color: "#000", width: 1.6 } },
    axisLabel: { show: true, margin: 10, fontSize: 15, color: "#000", fontFamily: FONT, formatter: powLabel },
    splitLine: gridLine,
  });
  const minorX = (g: number) => ({
    type: "log", logBase: 10, gridIndex: g, min: X_MIN, max: X_MAX, position: "bottom",
    axisLine: { show: false, onZero: false },
    axisTick: { show: true, inside: false, length: 4, lineStyle: { color: "#000", width: 1.2 }, customValues: minorTicks(X_MIN, X_MAX) },
    axisLabel: { show: false },
    splitLine: gridLine,
  });
  const minorY = (g: number, yr: number[]) => ({
    type: "log", logBase: 10, gridIndex: g, min: yr[0], max: yr[1], position: "left",
    axisLine: { show: false, onZero: false },
    axisTick: { show: true, inside: false, length: 4, lineStyle: { color: "#000", width: 1.2 }, customValues: minorTicks(yr[0], yr[1]) },
    axisLabel: { show: false },
    splitLine: gridLine,
  });

  const xAxis: any[] = [mainX(0), mainX(1)];
  const yAxis: any[] = [mainY(0, TOP_Y), mainY(1, BOT_Y)];
  if (withMinor) {
    xAxis.push(minorX(0), minorX(1));
    yAxis.push(minorY(0, TOP_Y), minorY(1, BOT_Y));
  }

  const line = (name: string, data: number[][], color: string, g: number) => ({
    type: "line", name, xAxisIndex: g, yAxisIndex: g, data,
    showSymbol: false, symbol: "none", color, silent: true, clip: true,
    lineStyle: { width: 5, color, join: "round", cap: "butt" },
    itemStyle: { color },
    emphasis: { disabled: true },
  });

  const series: any[] = [];
  TOP_SETS.forEach((s, i) => series.push(line(TOP_NAMES[i], buildSeries(s[0] as number[], s[1] as number[][], s[2] as number[][], TOP_UNIT, F_HF_TOP), COLORS[i], 0)));
  series.push(line(TOP_NAMES[6], zipPts(ADE_F, ADE_TOP), COLORS[6], 0));
  BOT_SETS.forEach((s, i) => series.push(line(BOT_NAMES[i], buildSeries(s[0] as number[], s[1] as number[][], s[2] as number[][], BOT_UNIT, F_HF_BOT), COLORS[i], 1)));
  series.push(line(BOT_NAMES[6], zipPts(ADE_F, ADE_BOT), COLORS[6], 1));

  const legendBase = {
    orient: "vertical", left: 1750, padding: [7, 8, 7, 8], itemGap: 13.5, itemWidth: 59, itemHeight: 5,
    icon: "rect", backgroundColor: "rgba(255,255,255,0.8)", borderColor: "#cccccc", borderWidth: 1.6, borderRadius: 6,
    selectedMode: false,
    textStyle: { fontSize: 27.5, fontFamily: FONT, color: "#000", lineHeight: 30, padding: [0, 0, 0, 18] },
  };

  const txt = (text: string, x: number, y: number, size: number, extra: any = {}) => ({
    type: "text", x, y, rotation: extra.rotation || 0, silent: true,
    style: { text, fill: "#000", fontSize: size, fontFamily: FONT, fontWeight: extra.weight || "normal", align: "center", verticalAlign: "middle" },
  });

  return {
    animation: false,
    backgroundColor: "#ffffff",
    textStyle: { fontFamily: FONT },
    grid: GRIDS.map((g) => ({ ...g, show: true, borderColor: "#000", borderWidth: 1.6, backgroundColor: "transparent", containLabel: false })),
    xAxis, yAxis, series,
    legend: [
      { ...legendBase, top: 207, data: TOP_NAMES },
      { ...legendBase, top: 877, data: BOT_NAMES },
    ],
    graphic: [
      txt("CPS Spectra", 1200, 47, 35),
      txt("1246006800 to 1246007400", 1200, 87, 35),
      txt("ITMY_ST1", 1230, 174, 28),
      txt("ITMY_ST2", 1230, 845, 28),
      txt("Freq (hz)", 1230, 797, 25),
      txt("Freq (hz)", 1230, 1469, 25),
      txt("m/rthz", 236, 472, 25, { rotation: Math.PI / 2 }),
      txt("m/rthz", 236, 1143, 25, { rotation: Math.PI / 2 }),
      txt("calibration only >10hz", 1222, 1515, 15.5, { weight: "bold" }),
      txt("/opt/rtcds/userapps/trunk/sys/h1/scripts/BSC_cps_spectra.py", 2289, 874, 15, { rotation: Math.PI / 2, weight: "bold" }),
    ],
  };
}

export default function App() {
  const ref = useRef<HTMLDivElement>(null);
  useEffect(() => {
    document.body.style.margin = "0";
    if (!ref.current) return;
    const chart = echarts.init(ref.current, null, { renderer: "svg" });
    try {
      chart.setOption(makeOption(true) as any);
    } catch (e) {
      chart.clear();
      chart.setOption(makeOption(false) as any);
    }
    return () => chart.dispose();
  }, []);
  return <div ref={ref} style={{ width: 2400, height: 1600, background: "#fff" }} />;
}
